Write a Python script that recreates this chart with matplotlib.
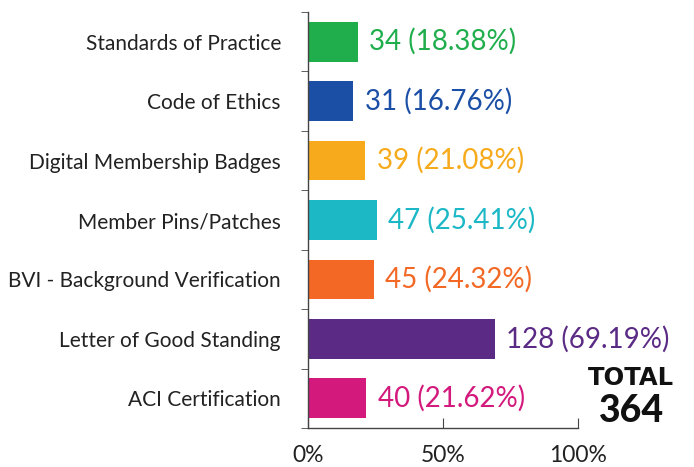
import matplotlib
matplotlib.use("Agg")
import matplotlib.pyplot as plt
import numpy as np

categories = ["Standards of Practice", "Code of Ethics", "Digital Membership Badges",
              "Member Pins/Patches", "BVI - Background Verification",
              "Letter of Good Standing", "ACI Certification"]
counts = [34, 31, 39, 47, 45, 128, 40]
percents = [18.38, 16.76, 21.08, 25.41, 24.32, 69.19, 21.62]
colors = ["#1fae4b", "#1b4fa5", "#f6aa1c", "#1cb8c6", "#f26824", "#5a2a84", "#d3197c"]
xticks = [0, 50, 100]
xticklabels = ["0%", "50%", "100%"]
total = 364

plt.rcParams['font.family'] = ['Lato', 'DejaVu Sans']

fig = plt.figure(figsize=(6.94, 4.67), dpi=100)
ax = fig.add_axes([308/694, 1-428/467, 270/694, 416/467])

y = np.arange(len(categories))
ax.barh(y, percents, height=0.67, color=colors)
ax.set_ylim(len(categories)-0.5, -0.5)
ax.set_xlim(0, 100)

for yi, c, p, col in zip(y, counts, percents, colors):
    ax.text(p + 4.3, yi, f"{c} ({p:.2f}%)", color=col, fontsize=20,
            va='center', ha='left', clip_on=False)

ax.set_yticks(y)
ax.set_yticklabels(categories, fontsize=15, color="#222222")
ax.set_yticks(np.arange(-0.5, len(categories)), minor=True)
ax.tick_params(axis='y', which='major', length=0, pad=19.5)
ax.tick_params(axis='y', which='minor', length=5, direction='out', color="#444444")

ax.set_xticks(xticks)
ax.set_xticklabels(xticklabels, fontsize=16.5, color="#222222")
ax.tick_params(axis='x', length=7, direction='in', color="#444444", pad=12)

for s in ['top', 'right']:
    ax.spines[s].set_visible(False)
for s in ['left', 'bottom']:
    ax.spines[s].set_color("#444444")
    ax.spines[s].set_linewidth(1.0)

fig.text(631/694, 1-378/467, "TOTAL", fontsize=17.5, fontweight='bold',
         family='DejaVu Sans', ha='center', va='center', color="#111111")
fig.text(632/694, 1-411/467, str(total), fontsize=27, fontweight='black',
         ha='center', va='center', color="#111111")

fig.savefig("out.png", dpi=100)
